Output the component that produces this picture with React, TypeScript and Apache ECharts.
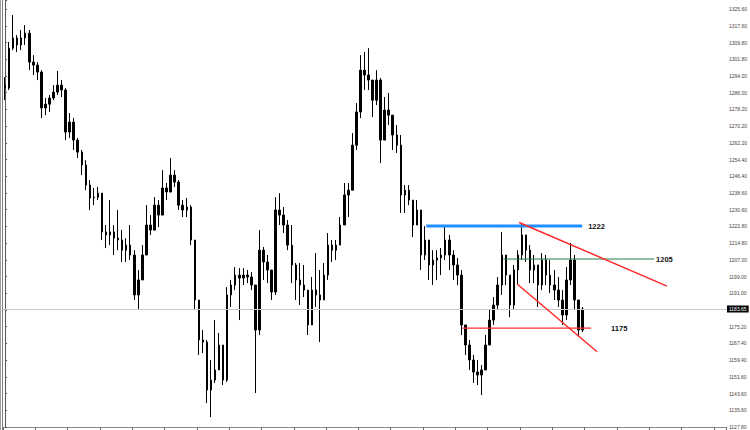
import { useEffect, useRef } from "react";
import * as echarts from "echarts";

// ---- price data (H4 bars) ----
const FIRST_OPEN = 1289.6;
const HIGHS = [
  1293.4, 1310.0, 1322.8, 1313.3, 1315.7, 1318.0, 1315.7, 1303.8, 1300.5, 1296.7,
  1283.5, 1284.9, 1289.6, 1296.3, 1292.0, 1288.2, 1276.4, 1274.0, 1264.6, 1258.9,
  1254.1, 1244.7, 1240.9, 1241.4, 1237.6, 1223.4, 1235.2, 1223.4, 1230.5, 1221.0,
  1217.2, 1223.4, 1211.5, 1202.1, 1213.9, 1232.8, 1228.1, 1236.6, 1235.2, 1249.4,
  1243.3, 1255.1, 1249.4, 1244.7, 1235.2, 1236.2, 1232.8, 1216.3, 1187.9, 1173.7,
  1169.0, 1159.5, 1178.4, 1172.3, 1166.6, 1194.0, 1197.4, 1203.5, 1203.0, 1203.0,
  1202.1, 1201.1, 1195.0, 1221.0, 1213.0, 1209.2, 1202.1, 1236.6, 1238.5, 1231.9,
  1225.8, 1223.4, 1205.4, 1205.4, 1204.5, 1187.9, 1198.8, 1210.1, 1202.1, 1205.4,
  1219.6, 1216.3, 1216.3, 1227.2, 1243.3, 1243.3, 1266.9, 1281.1, 1303.8, 1305.3,
  1307.1, 1292.0, 1296.7, 1293.0, 1284.0, 1285.9, 1275.4, 1270.7, 1266.0, 1242.3,
  1242.3, 1235.2, 1235.2, 1225.8, 1222.9, 1213.9, 1211.5, 1211.5, 1212.5, 1222.9,
  1218.7, 1211.5, 1207.8, 1202.1, 1176.1, 1169.0, 1161.9, 1159.5, 1157.1, 1171.3,
  1183.2, 1189.3, 1198.8, 1220.1, 1204.5, 1197.4, 1204.5, 1211.5, 1224.3, 1218.7,
  1213.9, 1209.2, 1202.1, 1210.1, 1209.2, 1206.8, 1202.1, 1198.8, 1192.6, 1203.5,
  1214.9, 1209.2, 1187.9, 1184.6,
];
const LOWS = [
  1282.5, 1287.3, 1306.2, 1305.3, 1306.2, 1308.6, 1296.7, 1294.4, 1292.0, 1274.0,
  1275.4, 1276.9, 1282.5, 1284.9, 1284.0, 1263.6, 1264.6, 1258.9, 1255.1, 1247.0,
  1239.9, 1230.5, 1232.8, 1235.2, 1216.3, 1212.5, 1213.9, 1209.2, 1211.5, 1205.9,
  1205.9, 1206.8, 1187.9, 1183.2, 1199.7, 1209.2, 1218.7, 1223.4, 1222.4, 1228.1,
  1235.2, 1239.9, 1241.4, 1230.5, 1227.2, 1227.2, 1213.9, 1183.2, 1161.9, 1162.8,
  1139.1, 1132.5, 1148.6, 1157.1, 1147.7, 1149.1, 1184.6, 1192.6, 1178.4, 1195.0,
  1195.9, 1192.6, 1143.9, 1171.3, 1197.4, 1195.9, 1187.9, 1190.3, 1223.4, 1219.6,
  1211.5, 1195.9, 1187.9, 1185.5, 1189.3, 1171.3, 1178.4, 1184.6, 1168.0, 1187.9,
  1197.4, 1205.9, 1206.8, 1213.9, 1223.4, 1227.2, 1239.9, 1258.9, 1274.0, 1287.3,
  1287.3, 1274.5, 1280.2, 1252.7, 1263.6, 1270.7, 1258.9, 1257.5, 1229.1, 1229.1,
  1232.8, 1217.7, 1223.4, 1202.1, 1206.8, 1197.4, 1195.0, 1197.4, 1199.7, 1206.8,
  1202.1, 1197.4, 1195.0, 1171.3, 1161.9, 1154.8, 1148.6, 1147.7, 1142.9, 1154.8,
  1166.6, 1176.1, 1183.2, 1190.3, 1195.0, 1179.8, 1183.2, 1195.0, 1206.8, 1205.9,
  1195.9, 1195.9, 1184.6, 1192.6, 1195.0, 1191.2, 1187.9, 1184.6, 1176.1, 1178.4,
  1195.0, 1183.2, 1170.4, 1172.7,
];
const CLOSES = [
  1288.2, 1307.1, 1311.9, 1308.6, 1311.9, 1314.2, 1300.5, 1299.1, 1295.8, 1278.8,
  1280.6, 1283.5, 1286.3, 1289.6, 1287.3, 1267.4, 1272.1, 1263.6, 1257.9, 1251.8,
  1242.3, 1236.2, 1236.6, 1238.5, 1220.1, 1218.7, 1220.1, 1217.2, 1216.3, 1211.5,
  1213.9, 1209.2, 1190.3, 1197.4, 1209.2, 1223.4, 1221.0, 1232.8, 1228.1, 1240.9,
  1239.0, 1247.0, 1243.7, 1232.8, 1230.5, 1231.9, 1216.3, 1187.9, 1169.0, 1168.0,
  1145.3, 1150.0, 1154.8, 1166.6, 1150.0, 1190.3, 1195.0, 1199.7, 1198.3, 1199.7,
  1198.8, 1195.0, 1173.7, 1211.5, 1205.9, 1202.1, 1191.7, 1230.5, 1228.1, 1223.4,
  1213.9, 1204.5, 1197.4, 1195.0, 1192.6, 1176.1, 1192.6, 1190.3, 1187.9, 1199.7,
  1213.9, 1211.5, 1213.9, 1223.4, 1237.6, 1239.9, 1261.2, 1276.9, 1296.7, 1294.4,
  1292.0, 1282.5, 1292.0, 1263.6, 1277.8, 1275.4, 1266.0, 1261.2, 1237.6, 1239.9,
  1235.2, 1223.4, 1230.5, 1209.2, 1216.3, 1204.5, 1206.8, 1207.8, 1209.2, 1216.3,
  1209.2, 1204.5, 1199.7, 1176.1, 1166.6, 1159.5, 1153.8, 1152.4, 1154.8, 1166.6,
  1178.4, 1185.5, 1195.0, 1209.2, 1199.7, 1185.5, 1202.1, 1209.2, 1218.7, 1211.5,
  1202.1, 1204.5, 1195.0, 1206.8, 1199.7, 1195.0, 1192.6, 1187.9, 1180.8, 1197.4,
  1206.8, 1187.9, 1173.7, 1183.65,
];
const TOTAL_SLOTS = 179; // bars + empty chart-shift area
const LAST_PRICE = 1183.65;

// ---- price-axis tick labels ----
const Y_LABELS = [
  1127.8, 1135.6, 1143.6, 1151.6, 1159.4, 1167.4, 1175.2, 1183.2, 1191.0, 1199.0,
  1207.0, 1214.8, 1222.8, 1230.6, 1238.6, 1246.4, 1254.4, 1262.2, 1270.2, 1278.2,
  1286.0, 1294.0, 1301.8, 1309.8, 1317.6, 1325.6,
];
const Y_MIN = 1127.8;
const Y_MAX = 1329.9;
const Y_STEP = 7.912;

// ---- drawn levels / trend lines: [bar index, price] ----
const BLUE_LINE = [[104.3, 1222.9], [142.9, 1222.9]];
const GREEN_LINE = [[123.4, 1207.3], [160.7, 1207.3]];
const RED_UPPER = [[127.3, 1224.6], [163.9, 1194.5]];
const RED_LOWER = [[126.8, 1195.5], [146.6, 1163.4]];
const RED_FLAT = [[113.2, 1174.6], [145.1, 1174.6]];
const LEVEL_LABELS = ["1222", "1205", "1175"];

export default function App() {
  const ref = useRef<HTMLDivElement>(null);
  useEffect(() => {
    if (!ref.current) return;
    const chart = echarts.init(ref.current, undefined, { renderer: "svg" });
    const categories = Array.from({ length: TOTAL_SLOTS }, (_, i) => String(i));
    const candles = CLOSES.map((c, i) => {
      const o = i === 0 ? FIRST_OPEN : CLOSES[i - 1];
      return [o, c, Math.min(LOWS[i], o, c), Math.max(HIGHS[i], o, c)];
    });
    const labelStyle = {
      show: true,
      fontSize: 7.5,
      fontWeight: "bold" as const,
      color: "#111",
      fontFamily: "Liberation Sans, Arial, sans-serif",
    };
    const trend = (data: number[][], color: string, width: number, label?: string, dist?: number) => ({
      type: "line",
      xAxisIndex: 1,
      yAxisIndex: 0,
      data,
      symbol: "none",
      silent: true,
      lineStyle: { color, width },
      endLabel: label ? { ...labelStyle, formatter: label, distance: dist } : { show: false },
      z: 5,
    });
    chart.setOption({
      animation: false,
      grid: { left: 3, right: 23, top: 0, bottom: 3 },
      xAxis: [
        {
          type: "category",
          data: categories,
          boundaryGap: true,
          axisLine: { show: true, lineStyle: { color: "#8a8a8a", width: 1 } },
          axisTick: { show: true, interval: 7, length: 3, lineStyle: { color: "#666" } },
          axisLabel: { show: false },
          splitLine: { show: false },
        },
        { type: "value", min: -0.5, max: TOTAL_SLOTS - 0.5, show: false },
      ],
      yAxis: {
        type: "value",
        position: "right",
        min: Y_MIN,
        max: Y_MAX,
        interval: Y_STEP,
        axisLine: { show: true, lineStyle: { color: "#555" } },
        axisTick: { show: true, length: 2, lineStyle: { color: "#555" } },
        splitLine: { show: false },
        axisLabel: {
          fontSize: 5,
          color: "#444",
          margin: 3,
          fontFamily: "Liberation Sans, Arial, sans-serif",
          formatter: (v: number) => {
            const m = Y_LABELS.find((l) => Math.abs(l - v) < 1.5);
            if (m === undefined || Math.abs(m - LAST_PRICE) < 2) return "";
            return m.toFixed(2);
          },
        },
      },
      series: [
        {
          type: "candlestick",
          xAxisIndex: 0,
          yAxisIndex: 0,
          data: candles,
          barWidth: 2,
          itemStyle: {
            color: "#000",
            color0: "#000",
            borderColor: "#000",
            borderColor0: "#000",
            borderWidth: 1,
          },
          markLine: {
            silent: true,
            symbol: ["none", "none"],
            data: [{ yAxis: LAST_PRICE }],
            lineStyle: { color: "#c8c8c8", width: 1, type: "solid" },
            label: {
              show: true,
              position: "end",
              formatter: LAST_PRICE.toFixed(2),
              color: "#fff",
              backgroundColor: "#000",
              fontSize: 5,
              padding: [1, 2],
              distance: 1,
              fontFamily: "Liberation Sans, Arial, sans-serif",
            },
          },
          z: 3,
        },
        trend(BLUE_LINE, "#1e8fff", 3, LEVEL_LABELS[0], 6),
        trend(GREEN_LINE, "#1f7a45", 1, LEVEL_LABELS[1], 2),
        trend(RED_UPPER, "#ff2a2a", 1.5),
        trend(RED_LOWER, "#ff2a2a", 1.5),
        trend(RED_FLAT, "#ff2a2a", 1.2, LEVEL_LABELS[2], 20),
      ],
      graphic: [
        { type: "line", shape: { x1: 0.5, y1: 0, x2: 0.5, y2: 430 }, style: { stroke: "#a0a0a0", lineWidth: 1 } },
        { type: "line", shape: { x1: 2.5, y1: 0, x2: 2.5, y2: 430 }, style: { stroke: "#808080", lineWidth: 1 } },
      ],
    });
    return () => chart.dispose();
  }, []);
  return (
    <div
      ref={ref}
      style={{ position: "absolute", left: 0, top: 0, width: 750, height: 430, background: "#fff" }}
    />
  );
}
